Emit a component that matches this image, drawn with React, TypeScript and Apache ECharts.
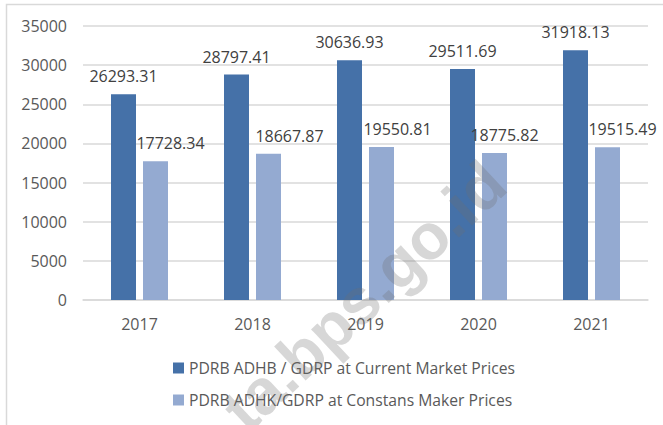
import React, { useEffect, useRef } from "react";
import * as echarts from "echarts";

const YEARS = ["2017", "2018", "2019", "2020", "2021"];
const ADHB_VALUES = [26293.31, 28797.41, 30636.93, 29511.69, 31918.13];
const ADHK_VALUES = [17728.34, 18667.87, 19550.81, 18775.82, 19515.49];
const SERIES_NAMES = [
  "PDRB ADHB / GDRP at Current Market Prices",
  "PDRB ADHK/GDRP at Constans Maker Prices",
];
const Y_MAX = 35000;
const Y_STEP = 5000;

// horizontal nudges of the light-series labels (layout only)
const LIGHT_LABEL_SHIFT = [15, 21, 16, 10, 15];

const FONT = "'Open Sans', 'Noto Sans', sans-serif";

export default function App() {
  const ref = useRef<HTMLDivElement>(null);
  useEffect(() => {
    if (!ref.current) return;
    const chart = echarts.init(ref.current, undefined, { renderer: "svg" });
    const fmt = (p: any) => Number(p.value).toFixed(2);
    chart.setOption({
      animation: false,
      backgroundColor: "#ffffff",
      textStyle: { fontFamily: FONT },
      grid: { left: 83, right: 15, top: 26, bottom: 125, containLabel: false },
      xAxis: {
        type: "category",
        data: YEARS,
        axisLine: { lineStyle: { color: "#d9d9d9", width: 1.5 } },
        axisTick: { show: false },
        axisLabel: { color: "#595959", fontSize: 16, margin: 16, fontFamily: FONT },
      },
      yAxis: {
        type: "value",
        min: 0,
        max: Y_MAX,
        interval: Y_STEP,
        axisLine: { show: false },
        axisTick: { show: false },
        splitLine: { lineStyle: { color: "#d9d9d9", width: 1.5 } },
        axisLabel: {
          color: "#595959",
          fontSize: 16,
          margin: 16,
          fontFamily: FONT,
          formatter: (v: number) => String(v),
        },
      },
      legend: {
        orient: "vertical",
        left: 168,
        top: 355,
        itemWidth: 11,
        itemHeight: 11,
        itemGap: 16,
        icon: "rect",
        textStyle: { color: "#595959", fontSize: 15.7, fontFamily: FONT },
        data: SERIES_NAMES,
      },
      graphic: [
        {
          type: "rect",
          shape: { x: 6.5, y: 4.5, width: 720, height: 500 },
          style: { fill: "none", stroke: "#d9d9d9", lineWidth: 1.5 },
          silent: true,
        },
        {
          type: "text",
          x: 364,
          y: 296,
          rotation: (43 * Math.PI) / 180,
          style: {
            text: "ta.bps.go.id",
            fill: "rgba(110,110,110,0.28)",
            font: "bold 64px 'Liberation Sans', Arial, sans-serif",
            align: "center",
            verticalAlign: "middle",
          },
          z: 100,
          silent: true,
        },
      ],
      series: [
        {
          name: SERIES_NAMES[0],
          type: "bar",
          data: ADHB_VALUES,
          barWidth: 25,
          barGap: "28%",
          itemStyle: { color: "#4571a8" },
          label: {
            show: true,
            position: "top",
            distance: 10,
            color: "#404040",
            fontSize: 16,
            fontFamily: FONT,
            formatter: fmt,
          },
        },
        {
          name: SERIES_NAMES[1],
          type: "bar",
          data: ADHK_VALUES.map((v, i) => ({
            value: v,
            label: { offset: [LIGHT_LABEL_SHIFT[i], 0] },
          })),
          barWidth: 25,
          itemStyle: { color: "#94aad1" },
          label: {
            show: true,
            position: "top",
            distance: 10,
            color: "#404040",
            fontSize: 16,
            fontFamily: FONT,
            formatter: fmt,
          },
        },
      ],
    });
    return () => chart.dispose();
  }, []);
  return (
    <div
      ref={ref}
      style={{ position: "fixed", left: 0, top: 0, width: 663, height: 425 }}
    />
  );
}
